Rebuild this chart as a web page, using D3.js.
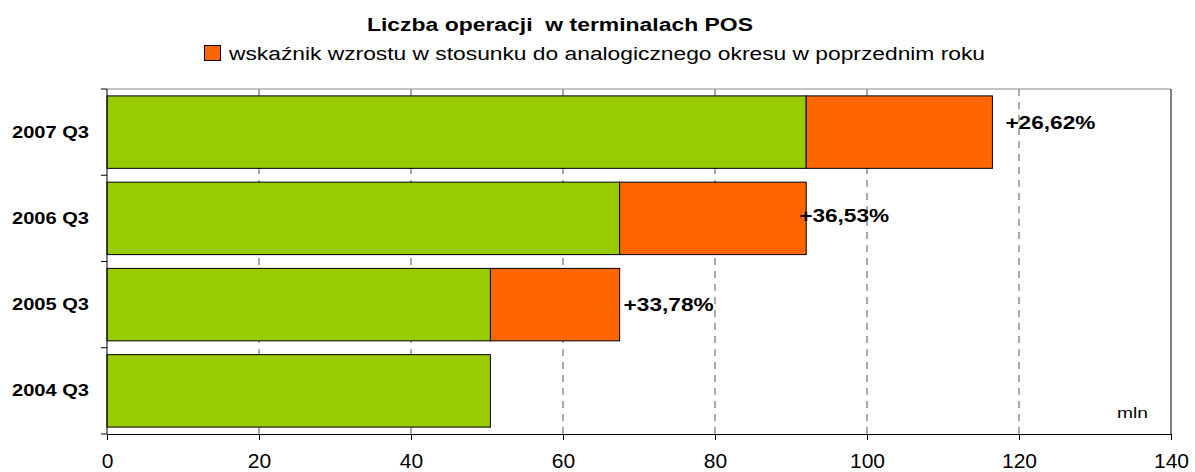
<!DOCTYPE html>
<html lang="pl">
<head>
  <meta charset="UTF-8">
  <title>Liczba operacji w terminalach POS</title>
  <script src="https://d3js.org/d3.v7.min.js"></script>
  <style>
    body { margin: 0; background: #fff; }
    svg { font-family: "Liberation Sans", Arial, sans-serif; }
    .title { font-size: 18px; font-weight: bold; }
    .legend { font-size: 18px; }
    .cat { font-size: 16px; font-weight: bold; }
    .tick text { font-size: 21px; }
    .pct { font-size: 19px; font-weight: bold; }
    .grid { stroke: #555; stroke-dasharray: 7,6; }
  </style>
</head>
<body>
<svg></svg>
<script>
  // kwartały (od góry)
  const quarters = ["2007 Q3", "2006 Q3", "2005 Q3", "2004 Q3"];
  // liczba operacji rok wcześniej (zielone), mln
  const baseValues = [92.0, 67.45, 50.45, 50.45];
  // przyrost w stosunku do roku poprzedniego (pomarańczowe), mln
  const growthValues = [24.5, 24.55, 17.0, 0];
  const growthLabels = ["+26,62%", "+36,53%", "+33,78%", ""];
  const xTicks = [0, 20, 40, 60, 80, 100, 120, 140];

  const width = 1195, height = 472;
  const margin = { top: 89, right: 24, bottom: 38, left: 107 };
  const svg = d3.select("svg").attr("width", width).attr("height", height);

  const x = d3.scaleLinear().domain([0, 140]).range([margin.left, width - margin.right]);
  const y = d3.scaleBand().domain(quarters).range([margin.top, height - margin.bottom]).paddingInner(0.16).paddingOuter(0.08);

  // siatka
  svg.selectAll(".grid").data(xTicks.slice(1, -1)).enter().append("line")
    .attr("class", "grid")
    .attr("x1", d => x(d)).attr("x2", d => x(d))
    .attr("y1", margin.top).attr("y2", height - margin.bottom);

  // ramka
  svg.append("line").attr("x1", x(0)).attr("x2", x(140)).attr("y1", margin.top).attr("y2", margin.top).attr("stroke", "#888");
  svg.append("line").attr("x1", x(140)).attr("x2", x(140)).attr("y1", margin.top).attr("y2", height - margin.bottom).attr("stroke", "#000");

  const rows = quarters.map((q, i) => ({ q, base: baseValues[i], growth: growthValues[i], label: growthLabels[i] }));

  svg.selectAll(".base").data(rows).enter().append("rect")
    .attr("x", x(0)).attr("y", d => y(d.q))
    .attr("width", d => x(d.base) - x(0)).attr("height", y.bandwidth())
    .attr("fill", "#99CC00").attr("stroke", "#000").attr("stroke-width", 1);

  svg.selectAll(".growth").data(rows.filter(d => d.growth > 0)).enter().append("rect")
    .attr("x", d => x(d.base)).attr("y", d => y(d.q))
    .attr("width", d => x(d.base + d.growth) - x(d.base)).attr("height", y.bandwidth())
    .attr("fill", "#FF6600").attr("stroke", "#000").attr("stroke-width", 1);

  // etykiety procentowe (lekko przesunięte jak w oryginale)
  const nudge = [[13, -10], [-7, -3], [4, 0]];
  svg.selectAll(".pct").data(rows.filter(d => d.label)).enter().append("text")
    .attr("class", "pct")
    .attr("x", (d, i) => x(d.base + d.growth) + nudge[i][0])
    .attr("y", (d, i) => y(d.q) + y.bandwidth() / 2 + nudge[i][1])
    .attr("dy", "0.35em")
    .attr("textLength", 90).attr("lengthAdjust", "spacingAndGlyphs")
    .text(d => d.label);

  // osie
  svg.append("g").attr("transform", `translate(0,${height - margin.bottom})`)
    .call(d3.axisBottom(x).tickValues(xTicks).tickSizeInner(6).tickSizeOuter(0).tickPadding(13))
    .call(g => g.select(".domain").attr("stroke", "#000"))
    .call(g => g.selectAll(".tick text").attr("fill", "#000").style("font-family", "Liberation Sans, Arial, sans-serif"));

  const yAxis = svg.append("g").attr("transform", `translate(${margin.left},0)`);
  yAxis.append("line").attr("x1", 0).attr("x2", 0).attr("y1", margin.top).attr("y2", height - margin.bottom).attr("stroke", "#000");
  const yEdges = [margin.top].concat(quarters.map(q => y(q) + y.bandwidth() + y.step() * y.paddingInner() / 2));
  yEdges[yEdges.length - 1] = height - margin.bottom;
  yAxis.selectAll(".yt").data(yEdges).enter().append("line")
    .attr("x1", -6).attr("x2", 0).attr("y1", d => d).attr("y2", d => d).attr("stroke", "#000");

  svg.selectAll(".cat").data(quarters).enter().append("text")
    .attr("class", "cat")
    .attr("x", 12)
    .attr("y", d => y(d) + y.bandwidth() / 2).attr("dy", "0.35em")
    .attr("textLength", 77).attr("lengthAdjust", "spacingAndGlyphs")
    .text(d => d);

  svg.append("text").attr("x", 1117).attr("y", 418).style("font-size", "15px")
    .attr("textLength", 31).attr("lengthAdjust", "spacingAndGlyphs").text("mln");

  // tytuł i legenda
  svg.append("text").attr("class", "title").attr("x", 367).attr("y", 31)
    .attr("textLength", 386).attr("lengthAdjust", "spacingAndGlyphs")
    .style("white-space", "pre")
    .text("Liczba operacji  w terminalach POS");
  svg.append("rect").attr("x", 204.5).attr("y", 45.5).attr("width", 16).attr("height", 15)
    .attr("fill", "#FF6600").attr("stroke", "#000");
  svg.append("text").attr("class", "legend").attr("x", 229).attr("y", 60)
    .attr("textLength", 756).attr("lengthAdjust", "spacingAndGlyphs")
    .text("wskaźnik wzrostu w stosunku do analogicznego okresu w poprzednim roku");
</script>
</body>
</html>
